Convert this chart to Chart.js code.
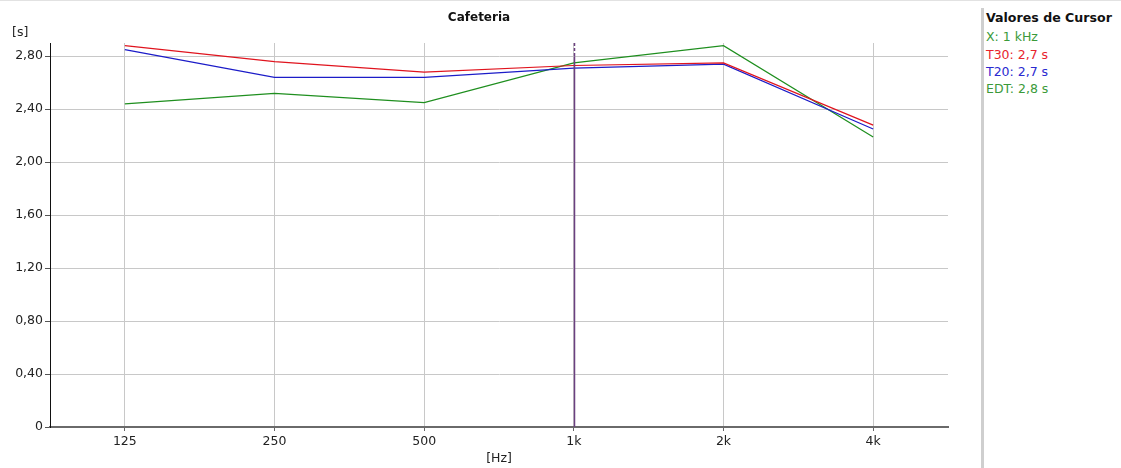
<!DOCTYPE html>
<html>
<head>
<meta charset="utf-8">
<script src="https://cdn.jsdelivr.net/npm/chart.js@4.4.1/dist/chart.umd.min.js"></script>
<style>
  html, body { margin: 0; padding: 0; background: #fff; }
  body { width: 1121px; height: 468px; position: relative; overflow: hidden; font-family: "DejaVu Sans", sans-serif; }
  #wrap { position: absolute; left: 0; top: 0; width: 980px; height: 468px; }
  #topline { position: absolute; left: 0; top: 0; width: 1121px; height: 1px; background: #e2e2e2; }
  #panel { position: absolute; left: 981px; top: 8px; width: 140px; height: 460px; border-left: 3px solid #cfcfcf; }
  #panel div { position: absolute; left: 2px; font-size: 12.5px; line-height: 14px; white-space: nowrap; }
</style>
</head>
<body>
<div id="topline"></div>
<div id="wrap"><canvas id="c"></canvas></div>
<div id="panel">
  <div style="top:3px;font-weight:bold;font-size:12.6px;color:#111;">Valores de Cursor</div>
  <div style="top:22px;color:#3a9a3a;">X: 1 kHz</div>
  <div style="top:40px;color:#e8242c;">T30: 2,7 s</div>
  <div style="top:57px;color:#2a2ad0;">T20: 2,7 s</div>
  <div style="top:74px;color:#3a9a3a;">EDT: 2,8 s</div>
</div>
<script>
const categories = ['125', '250', '500', '1k', '2k', '4k'];
const t30 = [2.88, 2.76, 2.68, 2.73, 2.75, 2.28];
const t20 = [2.85, 2.64, 2.64, 2.71, 2.74, 2.25];
const edt = [2.44, 2.52, 2.45, 2.75, 2.88, 2.19];
const yTickValues = [0, 0.4, 0.8, 1.2, 1.6, 2.0, 2.4, 2.8];
const yMax = 2.9;
const cursorCategory = '1k';
const titleText = 'Cafeteria';
const yUnit = '[s]';
const xUnit = '[Hz]';

const FONT = '"DejaVu Sans", sans-serif';

const extras = {
  id: 'extras',
  afterDatasetsDraw(chart) {
    const ctx = chart.ctx;
    const a = chart.chartArea;
    const xs = chart.scales.x, ys = chart.scales.y;
    const cx = Math.round(xs.getPixelForValue(categories.indexOf(cursorCategory))) + 0.5;
    const ySplit = ys.getPixelForValue(2.8);
    ctx.save();
    ctx.strokeStyle = '#6b4080';
    ctx.lineWidth = 1.5;
    ctx.setLineDash([3, 2]);
    ctx.beginPath(); ctx.moveTo(cx, a.top); ctx.lineTo(cx, ySplit); ctx.stroke();
    ctx.setLineDash([]);
    ctx.beginPath(); ctx.moveTo(cx, ySplit); ctx.lineTo(cx, a.bottom); ctx.stroke();
    ctx.restore();
  },
  afterDraw(chart) {
    const ctx = chart.ctx;
    const a = chart.chartArea;
    ctx.save();
    ctx.fillStyle = '#111';
    ctx.font = 'bold 12px ' + FONT;
    ctx.textAlign = 'center';
    ctx.textBaseline = 'middle';
    ctx.fillText(titleText, 479, 18);
    ctx.font = '12.5px ' + FONT;
    ctx.fillStyle = '#222';
    ctx.textAlign = 'left';
    ctx.fillText(yUnit, 12, a.top - 10);
    ctx.restore();
  }
};

new Chart(document.getElementById('c'), {
  type: 'line',
  data: {
    labels: categories,
    datasets: [
      { label: 'T30', data: t30, borderColor: '#e0141e', borderWidth: 1.2, pointRadius: 0, tension: 0, fill: false },
      { label: 'T20', data: t20, borderColor: '#1c1cc8', borderWidth: 1.2, pointRadius: 0, tension: 0, fill: false },
      { label: 'EDT', data: edt, borderColor: '#1f8f1f', borderWidth: 1.2, pointRadius: 0, tension: 0, fill: false }
    ]
  },
  options: {
    responsive: true,
    maintainAspectRatio: false,
    animation: false,
    events: [],
    layout: { padding: { top: 43, right: 32, left: 0, bottom: 0 } },
    plugins: { legend: { display: false }, tooltip: { enabled: false }, title: { display: false } },
    scales: {
      x: {
        type: 'category',
        offset: true,
        grid: { offset: false, color: '#c8c8c8', lineWidth: 1, tickLength: 4, tickColor: '#666', drawTicks: true },
        border: { display: true, color: '#6a6a6a', width: 2 },
        ticks: { color: '#222', font: { family: FONT, size: 12.5 }, padding: 3, maxRotation: 0 },
        title: { display: true, text: xUnit, color: '#222', font: { family: FONT, size: 12.5 }, padding: { top: 0, bottom: 2 } },
        afterFit(s) { s.height = 41; }
      },
      y: {
        min: 0,
        max: yMax,
        grid: { color: '#c8c8c8', lineWidth: 1, tickLength: 5, tickColor: '#555' },
        border: { display: true, color: '#111', width: 1 },
        ticks: {
          color: '#222',
          font: { family: FONT, size: 12.5 },
          padding: 2,
          callback: (v) => v === 0 ? '0' : Number(v).toFixed(2).replace('.', ',')
        },
        afterBuildTicks(s) { s.ticks = yTickValues.map(v => ({ value: v })); },
        afterFit(s) { s.width = 50; }
      }
    }
  },
  plugins: [extras]
});
</script>
</body>
</html>
